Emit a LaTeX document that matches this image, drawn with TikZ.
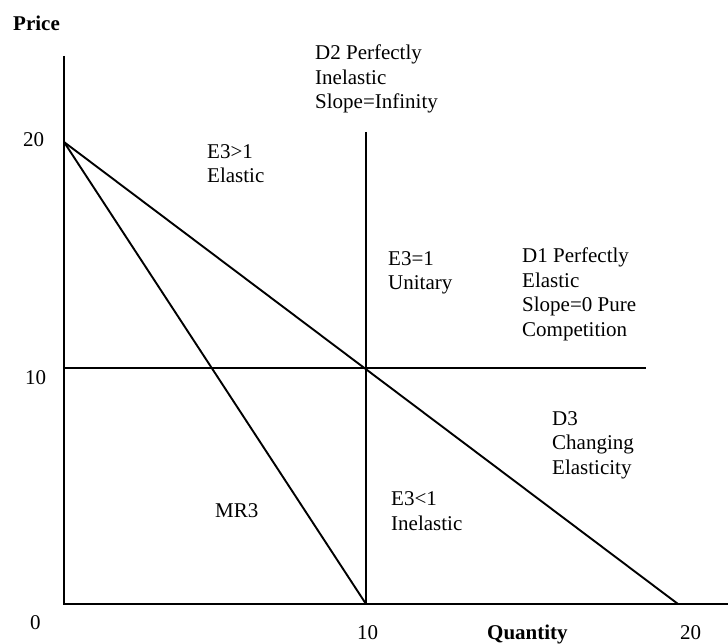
\documentclass[tikz,border=0pt]{standalone}
\usepackage{fontspec}
\setmainfont{Liberation Serif}
\begin{document}
\begin{tikzpicture}[x=1pt,y=-1pt,
  lbl/.style={inner sep=0pt,anchor=base west,align=left,font=\fontsize{21}{24.5}\selectfont},
  bold/.style={inner sep=0pt,anchor=base west,font=\fontsize{21}{24.5}\selectfont\bfseries},
  curve/.style={line width=1.9pt,line cap=butt}]
\useasboundingbox (0,0) rectangle (728,644);
% key points
\coordinate (ytop) at (64,56);
\coordinate (O) at (64,604);
\coordinate (xend) at (728,604);
\coordinate (P20) at (64,142);
\coordinate (Q10) at (366,604);
\coordinate (Q20) at (678,604);
\coordinate (D2top) at (366,132);
\coordinate (P10) at (64,368);
\coordinate (D1end) at (646,368);
% axes
\draw[curve] (ytop) -- (O) -- (xend);
% curves
\draw[curve] (P20) -- (Q20);
\draw[curve] (P20) -- (Q10);
\draw[curve] (D2top) -- (Q10);
\draw[curve] (P10) -- (D1end);
% axis labels
\node[bold] (price) at (13,31) {Price};
\node[lbl] (y20) at (23,147) {20};
\node[lbl] (y10) at (25,384) {10};
\node[lbl] (y0) at (30,629) {0};
\node[lbl] (x10) at (357,639) {10};
\node[bold] (qty) at (487,639) {Quantity};
\node[lbl] (x20) at (680,639) {20};
% region labels (base anchor = last line's baseline)
\node[lbl] (d2) at (315,109) {D2 Perfectly\\Inelastic\\Slope=Infinity};
\node[lbl] (e3g) at (207,183) {E3>1\\Elastic};
\node[lbl] (e3e) at (388,290) {E3=1\\Unitary};
\node[lbl] (d1) at (522,336) {D1 Perfectly\\Elastic\\Slope=0 Pure\\Competition};
\node[lbl] (d3) at (552,474) {D3\\Changing\\Elasticity};
\node[lbl] (mr3) at (215,517) {MR3};
\node[lbl] (e3l) at (391,530) {E3<1\\Inelastic};
\end{tikzpicture}
\end{document}
